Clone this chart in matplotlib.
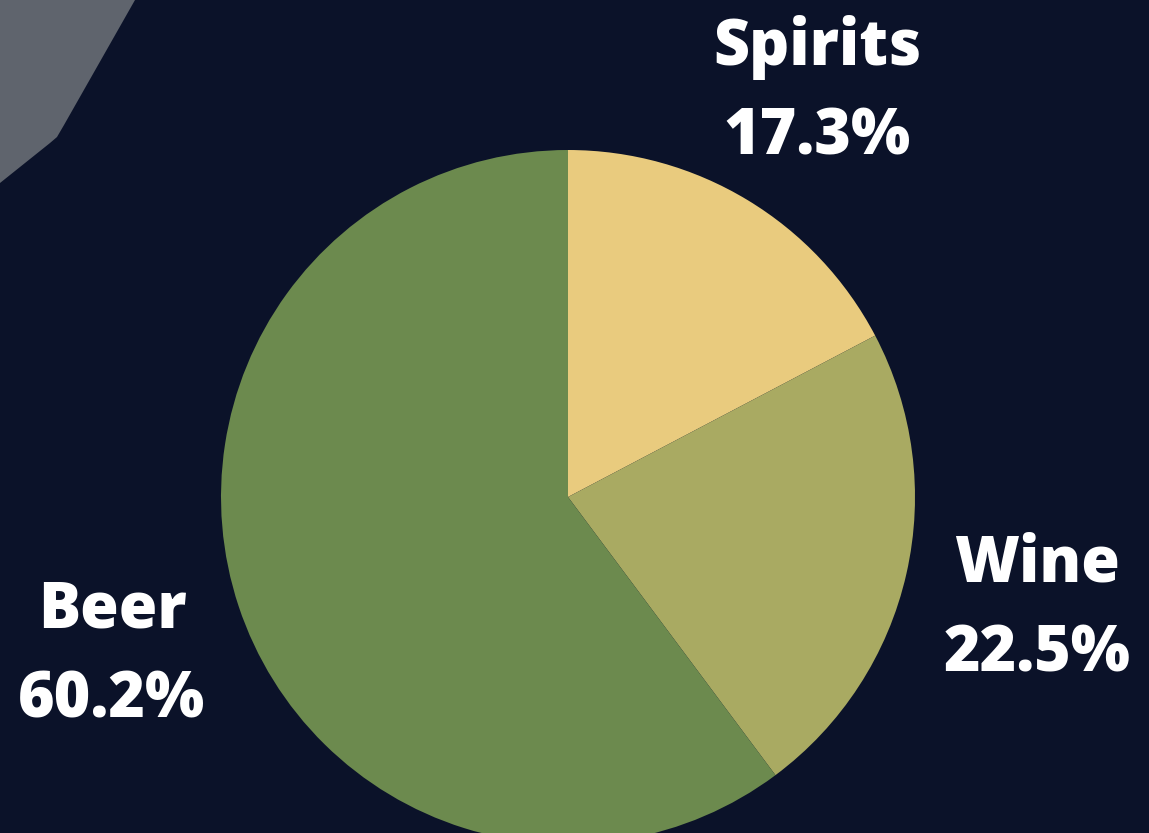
import matplotlib
matplotlib.use("Agg")
import matplotlib.pyplot as plt
from matplotlib.patches import Polygon

# data
categories = ["Spirits", "Wine", "Beer"]
shares = [17.3, 22.5, 60.2]
colors = ["#e9cb7e", "#a9aa62", "#6c8a4e"]

W, H = 1149, 833
fig = plt.figure(figsize=(W / 100, H / 100), dpi=100)
fig.patch.set_facecolor("#0b1229")
ax = fig.add_axes([0, 0, 1, 1])

# grey decoration in the top left corner
ax.add_patch(Polygon([(0, H), (135, H), (64, H - 125), (57, H - 137),
                      (50, H - 143), (0, H - 183)],
                     closed=True, facecolor="#5f646d", edgecolor="none"))

ax.pie(shares, colors=colors, startangle=90, counterclock=False,
       center=(568, H - 497), radius=347, frame=True,
       wedgeprops=dict(linewidth=0))
ax.set_xlim(0, W)
ax.set_ylim(0, H)
ax.set_aspect("equal")
ax.axis("off")

# labels (name on top, percentage below)
label_pos = {"Spirits": (817, 47), "Wine": (1037, 565), "Beer": (112, 610)}
for name, val in zip(categories, shares):
    x, y = label_pos[name]
    ax.text(x, H - y, name, ha="center", va="center", color="white",
            fontsize=45, fontweight="heavy", family="Open Sans")
    ax.text(x, H - y - 90, "{:.1f}%".format(val), ha="center", va="center",
            color="white", fontsize=45, fontweight="heavy", family="Open Sans")

fig.savefig("out.png", dpi=100, facecolor=fig.get_facecolor())
